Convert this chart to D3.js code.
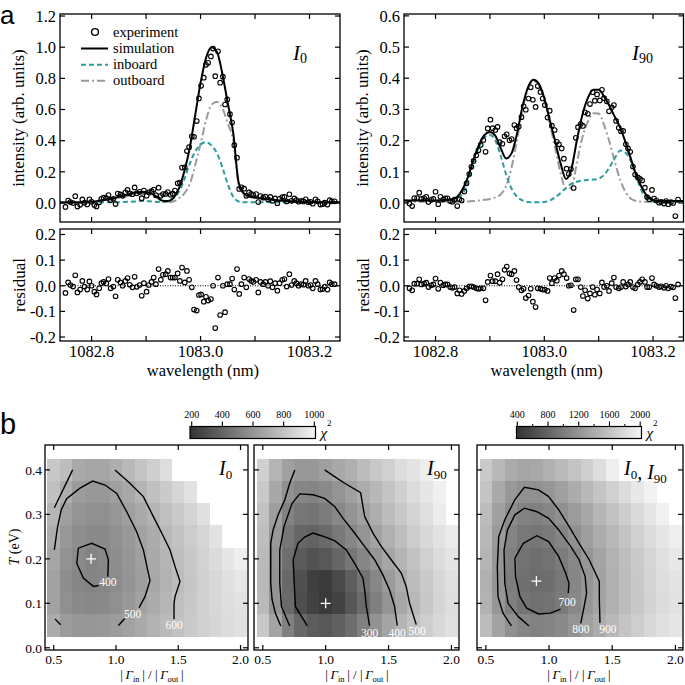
<!DOCTYPE html>
<html><head><meta charset="utf-8">
<script src="https://cdnjs.cloudflare.com/ajax/libs/d3/7.8.5/d3.min.js"></script>
<style>body{margin:0;background:#fff}svg{display:block}</style>
</head><body><div id="chart"></div>
<script>
// ---------------- DATA ----------------
const wavelength = [1082.752,1082.757,1082.761,1082.766,1082.770,1082.774,1082.779,1082.783,1082.787,1082.792,
1082.796,1082.800,1082.805,1082.809,1082.814,1082.818,1082.822,1082.827,1082.831,1082.835,
1082.840,1082.844,1082.848,1082.853,1082.857,1082.862,1082.866,1082.870,1082.875,1082.879,
1082.883,1082.888,1082.892,1082.896,1082.901,1082.905,1082.910,1082.914,1082.918,1082.923,
1082.927,1082.931,1082.936,1082.940,1082.945,1082.949,1082.953,1082.958,1082.962,1082.966,
1082.971,1082.975,1082.979,1082.984,1082.988,1082.993,1082.997,1083.001,1083.006,1083.010,
1083.014,1083.019,1083.023,1083.027,1083.032,1083.036,1083.041,1083.045,1083.049,1083.054,
1083.058,1083.062,1083.067,1083.071,1083.075,1083.080,1083.084,1083.089,1083.093,1083.097,
1083.102,1083.106,1083.110,1083.115,1083.119,1083.124,1083.128,1083.132,1083.137,1083.141,
1083.145,1083.150,1083.154,1083.158,1083.163,1083.167,1083.172,1083.176,1083.180,1083.185,
1083.189,1083.193,1083.198,1083.202,1083.206,1083.211,1083.215,1083.220,1083.224,1083.228,
1083.233,1083.237,1083.241,1083.246];

const expI0 = [-0.025,0.016,0.006,0.000,0.044,-0.023,-0.012,0.023,0.002,-0.009,
0.024,0.008,-0.013,-0.022,0.004,0.027,0.034,0.032,0.051,0.018,
0.027,-0.007,0.061,0.055,0.046,0.069,0.084,0.062,0.056,0.100,
0.063,0.072,0.031,0.080,0.047,0.069,0.076,0.086,0.050,0.098,
0.046,0.057,0.058,0.070,0.053,0.060,0.080,0.126,0.131,0.227,
0.228,0.333,0.358,0.428,0.425,0.526,0.671,0.752,0.804,0.887,
0.900,0.941,0.991,0.814,0.974,0.772,0.811,0.632,0.665,0.570,
0.516,0.371,0.291,0.090,0.101,0.092,0.046,0.068,0.058,0.051,
0.057,0.006,0.045,0.034,0.041,0.023,0.039,0.014,0.029,-0.001,
0.027,0.038,0.040,0.010,0.056,0.014,0.029,0.019,0.008,0.013,
0.010,0.024,0.005,0.008,-0.005,0.024,0.011,-0.010,-0.008,0.002,
-0.010,0.018,0.011,0.011];

const resI0 = [-0.028,0.013,0.003,-0.003,0.041,-0.026,-0.015,0.019,-0.003,-0.015,
0.017,0.000,-0.023,-0.034,-0.010,0.010,0.015,0.009,0.026,-0.010,
-0.003,-0.041,0.023,0.013,0.000,0.019,0.030,0.004,-0.006,0.035,
-0.004,0.003,-0.039,0.010,-0.023,0.003,0.015,0.032,0.006,0.065,
0.023,0.043,0.045,0.058,0.032,0.032,0.032,0.048,0.019,0.071,
0.013,0.058,0.023,-0.006,-0.093,-0.097,-0.036,-0.034,-0.062,-0.043,
-0.058,-0.052,0.000,-0.165,0.032,-0.114,0.000,-0.103,0.006,0.006,
0.028,-0.015,0.065,-0.032,0.006,0.032,-0.006,0.026,0.019,0.015,
0.023,-0.026,0.015,0.006,0.015,0.000,0.018,-0.006,0.010,-0.019,
0.010,0.023,0.026,-0.003,0.045,0.003,0.019,0.010,0.000,0.006,
0.004,0.019,0.000,0.003,-0.010,0.019,0.006,-0.015,-0.013,-0.003,
-0.015,0.013,0.006,0.006];

const expI90 = [-0.002,-0.010,0.016,0.016,0.033,0.013,0.016,0.020,0.003,0.010,
0.013,0.036,-0.004,0.020,0.011,0.015,0.015,0.006,0.004,0.011,
-0.010,0.012,0.008,0.037,0.063,0.093,0.116,0.135,0.153,0.169,
0.186,0.202,0.164,0.239,0.267,0.240,0.234,0.244,0.195,0.190,
0.214,0.220,0.201,0.205,0.250,0.240,0.245,0.275,0.310,0.299,
0.335,0.371,0.331,0.308,0.375,0.356,0.335,0.314,0.274,0.296,
0.248,0.234,0.196,0.188,0.175,0.142,0.110,0.093,0.109,0.048,
0.209,0.243,0.253,0.247,0.291,0.286,0.317,0.355,0.328,0.348,
0.329,0.363,0.336,0.326,0.294,0.307,0.314,0.263,0.241,0.230,
0.231,0.188,0.175,0.164,0.117,0.091,0.082,0.077,0.072,0.049,
0.019,0.012,0.042,0.014,0.008,0.001,0.004,-0.002,0.006,-0.004,
0.003,0.000,-0.042,0.011];

const resI90 = [-0.010,-0.018,0.008,0.008,0.025,0.005,0.008,0.012,-0.005,0.002,
0.005,0.028,-0.012,0.012,0.002,0.005,0.005,-0.005,-0.008,-0.005,
-0.030,-0.018,-0.032,-0.020,-0.010,-0.003,-0.002,-0.005,-0.010,-0.012,
-0.010,-0.010,-0.057,0.015,0.040,0.018,0.018,0.045,0.012,0.025,
0.062,0.075,0.048,0.045,0.058,0.022,-0.005,-0.018,-0.012,-0.048,
-0.038,-0.012,-0.062,-0.083,-0.010,-0.012,-0.015,-0.015,-0.020,0.030,
0.010,0.030,0.020,0.040,0.058,0.045,0.030,0.000,0.002,-0.095,
0.025,0.025,-0.005,-0.040,-0.018,-0.050,-0.030,-0.005,-0.035,-0.015,
-0.030,0.013,-0.005,0.000,-0.020,0.010,0.032,-0.005,-0.010,-0.005,
0.015,-0.003,0.005,0.015,-0.005,-0.010,0.005,0.015,0.025,0.015,
-0.005,-0.005,0.030,0.005,0.000,-0.005,-0.002,-0.008,0.000,-0.010,
-0.003,-0.006,-0.048,0.005];

const simWavelength = [1082.74,1082.75,1082.76,1082.77,1082.78,1082.79,1082.80,1082.81,1082.82,1082.83,
1082.84,1082.85,1082.86,1082.87,1082.88,1082.89,1082.90,1082.91,1082.92,1082.93,
1082.94,1082.95,1082.96,1082.97,1082.98,1082.99,1083.00,1083.01,1083.02,1083.03,
1083.04,1083.05,1083.06,1083.07,1083.08,1083.09,1083.10,1083.11,1083.12,1083.13,
1083.14,1083.15,1083.16,1083.17,1083.18,1083.19,1083.20,1083.21,1083.22,1083.23,
1083.24,1083.25,1083.26];

const simI0 = [0.003,0.003,0.003,0.003,0.003,0.005,0.008,0.012,0.018,0.025,
0.030,0.040,0.048,0.058,0.066,0.070,0.070,0.060,0.040,0.015,
0.012,0.030,0.090,0.200,0.350,0.560,0.770,0.930,1.000,0.970,
0.830,0.640,0.450,0.130,0.060,0.040,0.035,0.030,0.025,0.020,
0.018,0.015,0.012,0.010,0.008,0.006,0.005,0.005,0.005,0.005,
0.005,0.005,0.005];
const inboardI0 = [0.005,0.005,0.005,0.005,0.005,0.005,0.005,0.005,0.005,0.005,
0.005,0.005,0.006,0.008,0.010,0.012,0.012,0.010,0.007,0.005,
0.010,0.035,0.070,0.150,0.250,0.330,0.375,0.390,0.370,0.320,
0.230,0.120,0.040,0.010,0.005,0.005,0.005,0.005,0.005,0.005,
0.005,0.005,0.005,0.005,0.005,0.005,0.005,0.005,0.005,0.005,
0.005,0.005,0.005];
const outboardI0 = [0.005,0.005,0.005,0.005,0.005,0.005,0.005,0.008,0.012,0.018,
0.025,0.032,0.040,0.048,0.055,0.058,0.056,0.048,0.032,0.012,
0.006,0.010,0.030,0.060,0.120,0.240,0.380,0.530,0.630,0.650,
0.610,0.510,0.400,0.120,0.055,0.038,0.032,0.028,0.024,0.020,
0.017,0.014,0.011,0.009,0.007,0.005,0.005,0.005,0.005,0.005,
0.005,0.005,0.005];

const simI90 = [0.008,0.008,0.008,0.008,0.008,0.008,0.008,0.008,0.010,0.012,
0.020,0.045,0.085,0.140,0.186,0.218,0.228,0.215,0.175,0.143,
0.160,0.224,0.310,0.371,0.395,0.382,0.336,0.266,0.197,0.127,
0.077,0.110,0.202,0.282,0.336,0.363,0.363,0.341,0.311,0.275,
0.240,0.191,0.138,0.085,0.047,0.020,0.010,0.006,0.006,0.006,
0.006,0.006,0.006];
const inboardI90 = [0.008,0.008,0.008,0.008,0.008,0.008,0.008,0.008,0.008,0.008,
0.015,0.030,0.070,0.130,0.180,0.210,0.218,0.200,0.150,0.090,
0.045,0.020,0.008,0.003,0.002,0.002,0.003,0.008,0.018,0.032,
0.048,0.062,0.068,0.072,0.074,0.075,0.078,0.090,0.115,0.145,
0.168,0.160,0.130,0.080,0.035,0.012,0.005,0.003,0.003,0.003,
0.003,0.003,0.003];
const outboardI90 = [0.004,0.004,0.004,0.004,0.004,0.004,0.004,0.004,0.004,0.004,
0.004,0.004,0.005,0.006,0.008,0.010,0.013,0.018,0.028,0.055,
0.115,0.204,0.300,0.365,0.390,0.378,0.330,0.255,0.175,0.095,
0.045,0.050,0.130,0.210,0.260,0.288,0.287,0.250,0.195,0.130,
0.072,0.033,0.013,0.006,0.004,0.004,0.004,0.004,0.004,0.004,
0.004,0.004,0.004];

const wavelengthTicks = [1082.8, 1082.9, 1083.0, 1083.1, 1083.2];
const wavelengthTickLabels = ["1082.8", "", "1083.0", "", "1083.2"];
const intensityTicksI0 = [0.0, 0.2, 0.4, 0.6, 0.8, 1.0, 1.2];
const intensityTicksI90 = [0.0, 0.1, 0.2, 0.3, 0.4, 0.5, 0.6];
const residualTicks = [-0.2, -0.1, 0.0, 0.1, 0.2];
const legendLabels = ["experiment", "simulation", "inboard", "outboard"];

// chi^2 maps: columns = |Gamma_in|/|Gamma_out|, rows = T (eV), top row first
const ratioCols = [0.5,0.6,0.7,0.8,0.9,1.0,1.1,1.2,1.3,1.4,1.5,1.6,1.7,1.8,1.9,2.0];
const tempRows = [0.40,0.35,0.30,0.25,0.20,0.15,0.10,0.05];
const chiI0 = [
 [818,772,689,673,677,710,751,801,847,905,null,null,null,null,null,null],
 [784,702,635,619,619,652,685,735,784,826,876,925,null,null,null,null],
 [739,652,602,585,585,610,652,693,735,784,826,867,917,null,null,null],
 [706,619,577,561,561,585,619,660,702,751,793,834,876,925,null,null],
 [677,594,561,530,552,577,610,652,693,735,776,818,859,900,942,975],
 [660,577,544,536,544,569,602,644,685,726,768,809,851,884,917,942],
 [660,585,561,552,561,585,619,660,702,743,784,818,851,884,909,925],
 [702,635,610,610,619,635,660,693,726,760,793,826,851,876,900,917]];
const chiI90 = [
 [851,735,652,619,619,652,685,718,768,818,851,900,934,975,null,null],
 [818,685,585,544,536,561,602,652,702,751,801,851,900,942,983,null],
 [793,644,527,478,469,503,552,602,652,710,768,818,867,917,967,null],
 [776,619,478,411,395,428,486,544,602,660,718,776,834,884,925,959],
 [760,602,445,362,328,353,411,478,544,610,677,735,793,851,900,934],
 [751,594,420,320,250,235,290,380,470,550,630,700,768,826,876,917],
 [760,602,428,312,262,225,262,345,430,515,600,680,751,818,867,909],
 [818,668,519,420,370,353,387,445,519,594,668,735,793,842,884,917]];
const chiBoth = [
 [1652,1511,1395,1345,1370,1445,1527,1602,1693,1809,1950,null,null,null,null,null],
 [1602,1387,1237,1171,1171,1221,1304,1403,1503,1602,1702,1801,1900,1983,null,null],
 [1536,1304,1138,1055,1038,1088,1171,1270,1370,1486,1585,1685,1784,1884,1967,null],
 [1503,1254,1071,972,955,989,1071,1171,1287,1403,1503,1602,1702,1801,1884,1950],
 [1469,1221,1038,922,889,922,1005,1105,1221,1337,1453,1552,1652,1751,1834,1900],
 [1436,1204,1022,906,873,889,972,1088,1204,1320,1436,1536,1635,1735,1818,1867],
 [1453,1221,1038,939,906,922,989,1105,1221,1337,1436,1536,1635,1718,1801,1851],
 [1536,1320,1171,1088,1055,1071,1121,1204,1304,1403,1503,1602,1685,1768,1834,1884]];

const ratioTicks = [0.5, 1.0, 1.5, 2.0];
const tempTicks = [0.0, 0.1, 0.2, 0.3, 0.4];
const cbTicksI = [200, 400, 600, 800, 1000];
const cbTicksBoth = [400, 800, 1200, 1600, 2000];
const cbMinorBoth = [600, 1000, 1400, 1800];

// contour polylines [ratio, T]
const contoursI0 = [
 [[0.86,0.140],[0.819,0.138],[0.738,0.157],[0.685,0.19],[0.698,0.224],[0.805,0.235],[0.912,0.222],[0.939,0.198],[0.934,0.160]],
 [[0.505,0.22],[0.53,0.27],[0.56,0.31],[0.604,0.335],[0.711,0.359],[0.813,0.375],[0.912,0.366],[1.006,0.347],[1.086,0.306],[1.166,0.261],[1.22,0.22],[1.273,0.151],[1.233,0.115],[1.185,0.09]],
 [[1.07,0.066],[1.02,0.05]],
 [[0.51,0.065],[0.556,0.052]],
 [[0.505,0.315],[0.652,0.40]],
 [[0.992,0.40],[1.112,0.37],[1.22,0.34],[1.30,0.295],[1.367,0.258],[1.434,0.22],[1.474,0.183],[1.514,0.149],[1.474,0.115],[1.466,0.10],[1.466,0.064]]];
const contourLabelsI0 = [["400",0.935,0.149],["500",1.134,0.076],["600",1.466,0.052]];
const contoursI90 = [
 [[0.854,0.049],[0.759,0.093],[0.741,0.198],[0.780,0.235],[0.833,0.249],[0.899,0.258],[0.966,0.252],[1.071,0.241],[1.164,0.220],[1.230,0.190],[1.296,0.157],[1.310,0.130],[1.323,0.093],[1.349,0.050]],
 [[0.714,0.049],[0.648,0.093],[0.635,0.145],[0.635,0.22],[0.669,0.273],[0.733,0.325],[0.794,0.346],[0.9,0.344],[0.992,0.336],[1.071,0.318],[1.138,0.291],[1.23,0.258],[1.309,0.228],[1.389,0.198],[1.455,0.164],[1.508,0.13],[1.548,0.093],[1.569,0.050]],
 [[0.754,0.400],[0.714,0.370],[0.675,0.333],[0.622,0.299],[0.582,0.265],[0.563,0.235],[0.563,0.145],[0.574,0.108],[0.600,0.078],[0.643,0.049]],
 [[0.992,0.400],[1.071,0.385],[1.151,0.370],[1.278,0.349],[1.296,0.318],[1.310,0.295],[1.376,0.258],[1.442,0.228],[1.521,0.198],[1.601,0.168],[1.64,0.138],[1.667,0.100],[1.72,0.052]]];
const contourLabelsI90 = [["300",1.349,0.034],["400",1.569,0.034],["500",1.727,0.037]];
const contoursBoth = [
 [[1.091,0.087],[1.011,0.078],[0.917,0.076],[0.823,0.089],[0.770,0.115],[0.735,0.160],[0.730,0.2015],[0.797,0.235],[0.904,0.252],[0.997,0.239],[1.077,0.205],[1.131,0.168],[1.158,0.145],[1.152,0.123]],
 [[0.842,0.049],[0.757,0.070],[0.676,0.100],[0.650,0.145],[0.644,0.220],[0.671,0.265],[0.730,0.299],[0.805,0.314],[0.904,0.306],[0.997,0.291],[1.077,0.265],[1.171,0.228],[1.238,0.198],[1.286,0.160],[1.297,0.123],[1.278,0.093],[1.251,0.055]],
 [[0.703,0.049],[0.636,0.078],[0.596,0.115],[0.591,0.183],[0.602,0.250],[0.650,0.288],[0.730,0.333],[0.805,0.361],[0.917,0.355],[0.997,0.340],[1.077,0.310],[1.158,0.273],[1.238,0.235],[1.318,0.198],[1.398,0.149],[1.398,0.108],[1.403,0.056]]];
const contourLabelsBoth = [["700",1.144,0.104],["800",1.251,0.042],["900",1.465,0.042]];
const bestFitI0 = [0.8, 0.2], bestFitI90 = [1.0, 0.1], bestFitBoth = [0.9, 0.15];

// ---------------- DRAWING ----------------
const SERIF = "'Liberation Serif','Times New Roman',serif";
const SANS = "'Liberation Sans',Arial,sans-serif";
const svg = d3.select("#chart").append("svg").attr("width", 685).attr("height", 685)
  .attr("font-family", SERIF);
const defs = svg.append("defs");
let clipId = 0;

function frame(g, x, y, xt, yt, len) {
  const [xa, xb] = x.range(), [yb, ya] = y.range();
  const t = g.append("g").attr("stroke", "#000").attr("stroke-width", 1.2);
  xt.forEach(v => { const p = x(v);
    t.append("line").attr("x1", p).attr("x2", p).attr("y1", yb).attr("y2", yb - len);
    t.append("line").attr("x1", p).attr("x2", p).attr("y1", ya).attr("y2", ya + len); });
  yt.forEach(v => { const p = y(v);
    t.append("line").attr("x1", xa).attr("x2", xa + len).attr("y1", p).attr("y2", p);
    t.append("line").attr("x1", xb).attr("x2", xb - len).attr("y1", p).attr("y2", p); });
  g.append("rect").attr("x", xa).attr("y", ya).attr("width", xb - xa).attr("height", yb - ya)
    .attr("fill", "none").attr("stroke", "#000").attr("stroke-width", 1.3);
}
function clip(x, y) {
  const id = "clip" + (clipId++);
  const [xa, xb] = x.range(), [yb, ya] = y.range();
  defs.append("clipPath").attr("id", id).append("rect").attr("x", xa).attr("y", ya)
    .attr("width", xb - xa).attr("height", yb - ya);
  return "url(#" + id + ")";
}

const lamDomain = [1082.742, 1083.256];
const styles = {
  sim: {stroke: "#000", w: 2, dash: null},
  inb: {stroke: "#2e9c9c", w: 2, dash: "5,3"},
  outb: {stroke: "#9b9b9b", w: 2, dash: "8,3,2,3"}
};

function spectrum(cfg) {
  const x = d3.scaleLinear().domain(lamDomain).range(cfg.xr);
  const y = d3.scaleLinear().domain(cfg.yd).range([222, 14]);
  const yr = d3.scaleLinear().domain([-0.2155, 0.2214]).range([341, 229]);
  const g = svg.append("g");
  const cp = clip(x, y);
  const plot = g.append("g").attr("clip-path", cp);
  const line = d3.line().x((d, i) => x(simWavelength[i])).y(d => y(d)).curve(d3.curveMonotoneX);
  [[cfg.outb, styles.outb], [cfg.inb, styles.inb], [cfg.sim, styles.sim]].forEach(([arr, s]) => {
    plot.append("path").attr("d", line(arr)).attr("fill", "none").attr("stroke", s.stroke)
      .attr("stroke-width", s.w).attr("stroke-dasharray", s.dash);
  });
  plot.selectAll("circle").data(cfg.exp).join("circle")
    .attr("cx", (d, i) => x(wavelength[i])).attr("cy", d => y(d)).attr("r", 2.3)
    .attr("fill", "none").attr("stroke", "#000").attr("stroke-width", 1.1);
  frame(g, x, y, wavelengthTicks, cfg.yt, 5);
  g.selectAll(".yl").data(cfg.yt).join("text").attr("x", cfg.xr[0] - 4).attr("y", d => y(d))
    .attr("dy", "0.35em").attr("text-anchor", "end").attr("font-size", 16.5).text(d => d.toFixed(1));
  g.append("text").attr("transform", `translate(${cfg.xr[0] - 36},118) rotate(-90)`)
    .attr("text-anchor", "middle").attr("font-size", 17).text("intensity (arb. units)");
  // residual panel
  const rg = svg.append("g");
  const cp2 = clip(x, yr);
  const rp = rg.append("g").attr("clip-path", cp2);
  rp.append("line").attr("x1", cfg.xr[0]).attr("x2", cfg.xr[1]).attr("y1", yr(0)).attr("y2", yr(0))
    .attr("stroke", "#000").attr("stroke-width", 1.2).attr("stroke-dasharray", "1,1.5");
  rp.selectAll("circle").data(cfg.res).join("circle")
    .attr("cx", (d, i) => x(wavelength[i])).attr("cy", d => yr(d)).attr("r", 2.3)
    .attr("fill", "none").attr("stroke", "#000").attr("stroke-width", 1.1);
  frame(rg, x, yr, wavelengthTicks, residualTicks, 5);
  rg.selectAll(".yl").data(residualTicks).join("text").attr("x", cfg.xr[0] - 4).attr("y", d => yr(d))
    .attr("dy", "0.35em").attr("text-anchor", "end").attr("font-size", 16.5).text(d => d.toFixed(1));
  rg.selectAll(".xl").data(wavelengthTicks).join("text").attr("x", d => x(d)).attr("y", 357)
    .attr("text-anchor", "middle").attr("font-size", 16.5).text((d, i) => wavelengthTickLabels[i]);
  rg.append("text").attr("x", (cfg.xr[0] + cfg.xr[1]) / 2 + 3).attr("y", 376).attr("text-anchor", "middle")
    .attr("font-size", 16.5).text("wavelength (nm)");
  rg.append("text").attr("transform", `translate(${cfg.xr[0] - 35},285) rotate(-90)`)
    .attr("text-anchor", "middle").attr("font-size", 17).text("residual");
  // title
  const t = g.append("text").attr("x", cfg.titleX).attr("y", 60).attr("font-size", 21);
  t.append("tspan").attr("font-style", "italic").text("I");
  t.append("tspan").attr("font-size", 14).attr("dy", 3).text(cfg.sub);
  return {x, y, g};
}

spectrum({xr: [60, 340], yd: [-0.122, 1.213], yt: intensityTicksI0, exp: expI0, res: resI0,
  sim: simI0, inb: inboardI0, outb: outboardI0, titleX: 293, sub: "0"});
spectrum({xr: [404, 683.5], yd: [-0.061, 0.606], yt: intensityTicksI90, exp: expI90, res: resI90,
  sim: simI90, inb: inboardI90, outb: outboardI90, titleX: 632, sub: "90"});

// legend
const lg = svg.append("g");
const legY = [32, 48.5, 64.7, 80.7];
lg.append("circle").attr("cx", 95).attr("cy", legY[0]).attr("r", 3.4).attr("fill", "none")
  .attr("stroke", "#000").attr("stroke-width", 1.4);
[styles.sim, styles.inb, styles.outb].forEach((s, i) => {
  lg.append("line").attr("x1", 81).attr("x2", 108).attr("y1", legY[i + 1]).attr("y2", legY[i + 1])
    .attr("stroke", s.stroke).attr("stroke-width", s.w).attr("stroke-dasharray", s.dash);
});
legendLabels.forEach((l, i) => lg.append("text").attr("x", 113).attr("y", legY[i]).attr("dy", "0.33em")
  .attr("font-size", 14.5).text(l));

// panel letters
svg.append("text").attr("x", 0).attr("y", 24).attr("font-family", SANS).attr("font-size", 26).text("a");
svg.append("text").attr("x", 0).attr("y", 434).attr("font-family", SANS).attr("font-size", 29).text("b");

// ---------- chi^2 maps ----------
const yT = d3.scaleLinear().domain([-0.005, 0.456]).range([650, 445]);
const colI = d3.scaleLinear().domain([200, 1000]).range(["#333333", "#f4f4f4"]).clamp(true);
const colB = d3.scaleLinear().domain([400, 2000]).range(["#333333", "#f4f4f4"]).clamp(true);

function heat(cfg) {
  const x = d3.scaleLinear().domain([0.43, 2.06]).range(cfg.xr);
  const g = svg.append("g");
  const cells = [];
  cfg.chi.forEach((row, r) => row.forEach((v, c) => { if (v != null) cells.push({c: ratioCols[c], t: tempRows[r], v}); }));
  g.append("g").attr("shape-rendering", "crispEdges").selectAll("rect").data(cells).join("rect")
    .attr("x", d => x(d.c - 0.05)).attr("y", d => yT(d.t + 0.025))
    .attr("width", d => x(d.c + 0.05) - x(d.c - 0.05) + 0.4).attr("height", d => yT(d.t - 0.025) - yT(d.t + 0.025) + 0.4)
    .attr("fill", d => cfg.col(d.v));
  const line = d3.line().x(d => x(d[0])).y(d => yT(d[1]));
  cfg.contours.forEach(c => g.append("path").attr("d", line(c)).attr("fill", "none")
    .attr("stroke", "#000").attr("stroke-width", 1.4));
  cfg.labels.forEach(([txt, cx, cy]) => g.append("text").attr("x", x(cx)).attr("y", yT(cy))
    .attr("dy", "0.35em").attr("text-anchor", "middle").attr("font-size", 11.5).attr("fill", "#fff").text(txt));
  const bx = x(cfg.best[0]), by = yT(cfg.best[1]);
  g.append("path").attr("d", `M${bx - 5},${by}H${bx + 5}M${bx},${by - 5}V${by + 5}`)
    .attr("stroke", "#fff").attr("stroke-width", 1.3);
  frame(g, x, yT, ratioTicks, tempTicks, 5);
  g.selectAll(".xl").data(ratioTicks).join("text").attr("x", d => x(d)).attr("y", 664)
    .attr("text-anchor", "middle").attr("font-size", 13.5).text(d => d.toFixed(1));
  if (cfg.yLabels) {
    g.selectAll(".yl").data(tempTicks).join("text").attr("x", cfg.xr[0] - 3).attr("y", d => yT(d))
      .attr("dy", "0.35em").attr("text-anchor", "end").attr("font-size", 13.5).text(d => d.toFixed(1));
    const tl = g.append("text").attr("transform", `translate(19,547) rotate(-90)`).attr("text-anchor", "middle").attr("font-size", 14);
    tl.append("tspan").attr("font-style", "italic").text("T");
    tl.append("tspan").text(" (eV)");
  }
  const lab = g.append("text").attr("x", cfg.labX).attr("y", 679).attr("text-anchor", "middle").attr("font-size", 13);
  lab.append("tspan").text("|\u2009");
  lab.append("tspan").attr("font-style", "italic").text("Γ");
  lab.append("tspan").attr("font-size", 8.5).attr("dy", 2.5).text("in");
  lab.append("tspan").attr("dy", -2.5).text("\u2009| / |\u2009");
  lab.append("tspan").attr("font-style", "italic").text("Γ");
  lab.append("tspan").attr("font-size", 8.5).attr("dy", 2.5).text("out");
  lab.append("tspan").attr("dy", -2.5).text("\u2009|");
  const tt = g.append("text").attr("x", cfg.titleX).attr("y", 475).attr("font-size", 20);
  cfg.title.forEach(([s, sub]) => {
    tt.append("tspan").attr("font-style", "italic").text(s);
    tt.append("tspan").attr("font-size", 13).attr("dy", 4).text(sub);
    tt.append("tspan").attr("dy", -4).text("");
  });
  return g;
}
heat({xr: [45, 248], chi: chiI0, col: colI, contours: contoursI0, labels: contourLabelsI0, best: bestFitI0,
  yLabels: true, labX: 152, titleX: 219, title: [["I", "0"]]});
heat({xr: [254, 459], chi: chiI90, col: colI, contours: contoursI90, labels: contourLabelsI90, best: bestFitI90,
  yLabels: false, labX: 357, titleX: 427, title: [["I", "90"]]});
heat({xr: [477, 683], chi: chiBoth, col: colB, contours: contoursBoth, labels: contourLabelsBoth, best: bestFitBoth,
  yLabels: false, labX: 579, titleX: 624, title: [["I", "0"], [", I", "90"]]});

// colorbars
function colorbar(cfg) {
  const s = d3.scaleLinear().domain(cfg.domain).range(cfg.pos);
  const id = "grad" + cfg.key;
  const gr = defs.append("linearGradient").attr("id", id).attr("x1", "0%").attr("x2", "100%");
  d3.range(0, 1.0001, 0.1).forEach(f => gr.append("stop").attr("offset", f)
    .attr("stop-color", cfg.col(cfg.domain[0] + f * (cfg.domain[1] - cfg.domain[0]))));
  const g = svg.append("g");
  g.append("rect").attr("x", cfg.bar[0]).attr("y", 426.5).attr("width", cfg.bar[1] - cfg.bar[0]).attr("height", 12)
    .attr("fill", `url(#${id})`).attr("stroke", "#000").attr("stroke-width", 1.2);
  cfg.ticks.forEach(v => {
    g.append("line").attr("x1", s(v)).attr("x2", s(v)).attr("y1", 426.5).attr("y2", 421.5).attr("stroke", "#000").attr("stroke-width", 1.1);
    g.append("text").attr("x", s(v)).attr("y", 418).attr("text-anchor", "middle").attr("font-size", 10).text(v);
  });
  cfg.minor.forEach(v => g.append("line").attr("x1", s(v)).attr("x2", s(v)).attr("y1", 426.5).attr("y2", 424)
    .attr("stroke", "#000").attr("stroke-width", 1));
  const t = g.append("text").attr("x", cfg.bar[1] + 5).attr("y", 438).attr("font-size", 15);
  t.append("tspan").attr("font-style", "italic").text("χ");
  t.append("tspan").attr("font-size", 9).attr("dy", -12).text("2");
}
colorbar({key: "a", domain: [200, 1000], pos: [191.7, 314.3], bar: [190, 315.5], col: colI, ticks: cbTicksI, minor: []});
colorbar({key: "b", domain: [400, 2000], pos: [517.3, 640.2], bar: [516.5, 641.5], col: colB, ticks: cbTicksBoth, minor: cbMinorBoth});
</script>
</body></html>
